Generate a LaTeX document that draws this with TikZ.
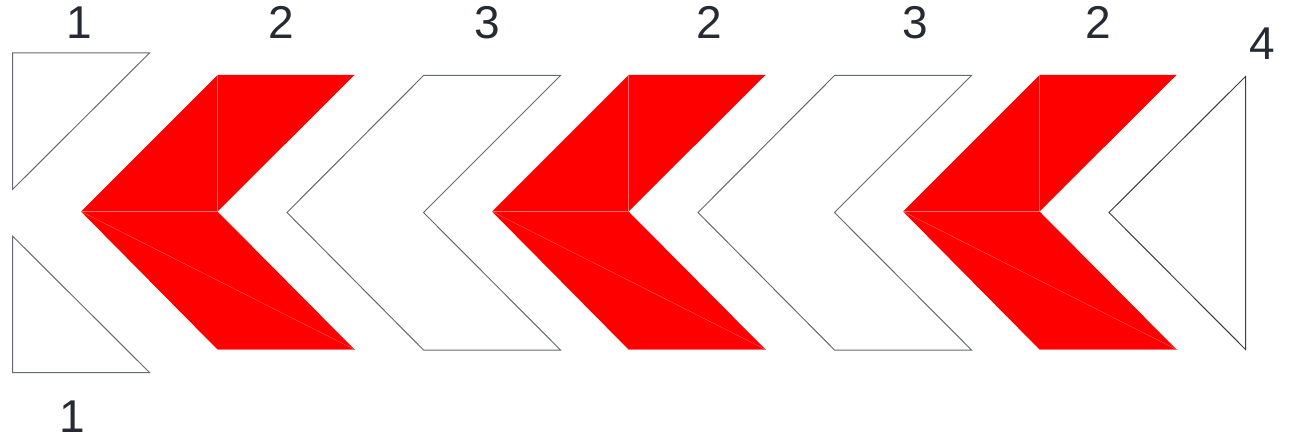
\documentclass[tikz,border=0pt]{standalone}
\usepackage{fontspec}
\setmainfont{Liberation Sans}
\definecolor{labelc}{HTML}{262B33}
\definecolor{outl}{HTML}{66696E}
\definecolor{outd}{HTML}{3A3D42}
\definecolor{seam}{HTML}{FF6A6A}
\tikzset{
  lbl/.style={anchor=base,inner sep=0pt,text=labelc,font=\fontsize{46}{46}\selectfont},
  outline/.style={draw=outl,line width=1pt,line join=miter,fill=white},
  redpiece/.style={fill=red,draw=none},
  seamline/.style={draw=seam,line width=0.5pt},
  gapline/.style={draw=white,line width=0.8pt}
}
\newcommand{\redchevron}[1]{%
  \begin{scope}[shift={(#1,0)}]
    \fill[redpiece] (0,211.5) -- (136.5,75) -- (273.5,75) -- (136.5,211.5) -- (273.5,349.5) -- (136.5,349.5) -- cycle;
    \draw[seamline] (136.5,75) -- (136.5,211.5);
    \draw[seamline] (0,211.5) -- (136.5,211.5);
    \draw[seamline,line width=0.3pt] (0,211.5) -- (273.5,349.5);
    \draw[seamline] (136.5,349.5) -- (273.5,349.5);
    \draw[gapline] (139.5,211.5) -- (273.5,77.5);
  \end{scope}}
\newcommand{\whitechevron}[1]{%
  \begin{scope}[shift={(#1,0)}]
    \draw[outline] (0,212.5) -- (136.5,75.5) -- (273.5,75.5) -- (136.5,212.5) -- (273.5,350) -- (136.5,350) -- cycle;
  \end{scope}}
\begin{document}
\begin{tikzpicture}[x=1pt,y=-1pt]
\useasboundingbox[fill=white] (0,0) rectangle (1292,438);
% left triangles (1)
\draw[outline] (12.5,53) -- (149.5,53) -- (12.5,189.5) -- cycle;
\draw[outline] (12.5,236) -- (149.5,372.5) -- (12.5,372.5) -- cycle;
% chevrons
\redchevron{81}
\whitechevron{287}
\redchevron{492}
\whitechevron{698}
\redchevron{903}
% right triangle (4)
\draw[outline,draw=outd] (1109,212.5) -- (1245.5,76.5) -- (1245.5,349.5) -- cycle;
% labels
\node[lbl] (l1a) at (79,39) {1};
\node[lbl] (l2a) at (281,39) {2};
\node[lbl] (l3a) at (487,39) {3};
\node[lbl] (l2b) at (709,39) {2};
\node[lbl] (l3b) at (915,39) {3};
\node[lbl] (l2c) at (1098,39) {2};
\node[lbl] (l4) at (1262,60) {4};
\node[lbl] (l1b) at (72,432) {1};
\end{tikzpicture}
\end{document}
